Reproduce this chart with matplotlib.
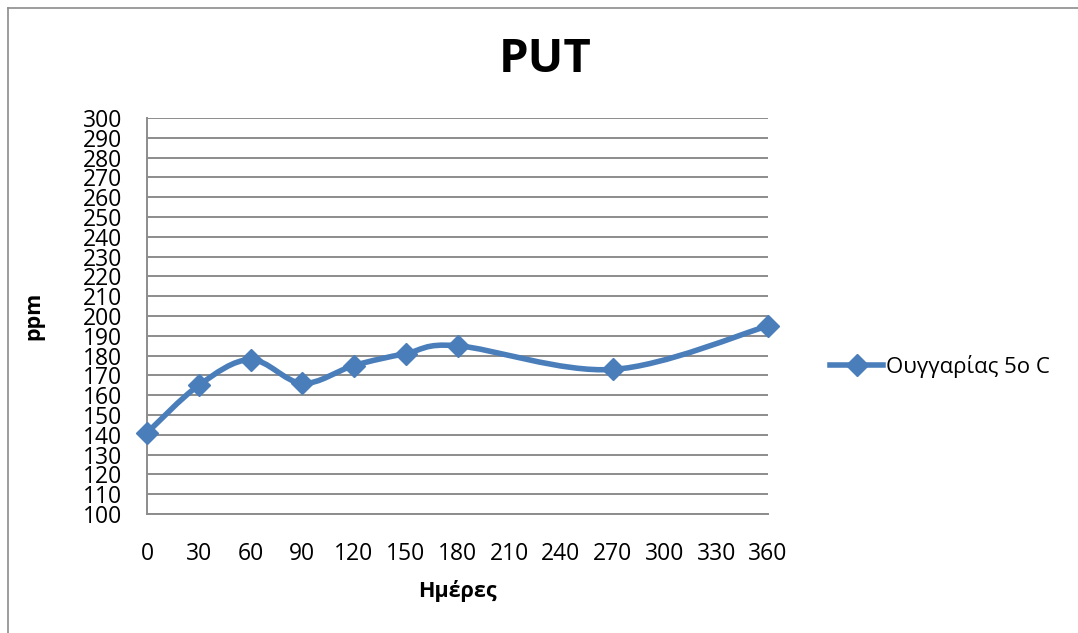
import numpy as np
import matplotlib.pyplot as plt
from matplotlib.path import Path
from matplotlib.patches import PathPatch
from matplotlib.lines import Line2D

plt.rcParams['font.family'] = ['Open Sans', 'DejaVu Sans']

days = [0, 30, 60, 90, 120, 150, 180, 270, 360]
ppm = [141, 165, 178, 166, 175, 181, 185, 173, 195]
series_name = "Ουγγαρίας 5ο C"
x_ticks = list(range(0, 361, 30))
y_ticks = list(range(100, 301, 10))

BLUE = '#4A7EBB'
GRID = '#8C8C8C'


def smooth_path(xs, ys):
    # Excel-like smoothed line: cubic Bezier through the points (Catmull-Rom tangents)
    pts = np.column_stack([xs, ys]).astype(float)
    n = len(pts)
    verts = [pts[0]]
    codes = [Path.MOVETO]
    for i in range(n - 1):
        p0 = pts[i - 1] if i > 0 else pts[i]
        p1 = pts[i]
        p2 = pts[i + 1]
        p3 = pts[i + 2] if i + 2 < n else pts[i + 1]
        c1 = p1 + (p2 - p0) / 6.0
        c2 = p2 - (p3 - p1) / 6.0
        verts += [c1, c2, p2]
        codes += [Path.CURVE4] * 3
    return Path(verts, codes)


fig = plt.figure(figsize=(10.78, 6.33), dpi=100)
ax = fig.add_axes([147 / 1078, 1 - 514 / 633, (768 - 147) / 1078, (514 - 118) / 633])

# outer chart border (extends past the picture on right and bottom)
fig.add_artist(Line2D([7.5 / 1078, 1.0], [1 - 7.5 / 633] * 2, transform=fig.transFigure,
                      color='#8C8C8C', lw=1.2))
fig.add_artist(Line2D([7.5 / 1078] * 2, [0, 1 - 7.5 / 633], transform=fig.transFigure,
                      color='#8C8C8C', lw=1.2))

ax.add_patch(PathPatch(smooth_path(days, ppm), facecolor='none', edgecolor=BLUE,
                       lw=4.0, capstyle='round', joinstyle='round', zorder=3))
ax.plot(days, ppm, linestyle='none', marker='D', markersize=11,
        color=BLUE, zorder=4, clip_on=False)

ax.set_xlim(0, 360)
ax.set_ylim(100, 300)
ax.set_xticks(x_ticks)
ax.set_yticks(y_ticks)
ax.tick_params(axis='both', length=0, labelsize=16.5)
ax.tick_params(axis='x', pad=20)
ax.tick_params(axis='y', pad=18)
ax.yaxis.grid(True, color=GRID, lw=1.4)
ax.set_axisbelow(True)
for s in ['top', 'right']:
    ax.spines[s].set_visible(False)
for s in ['left', 'bottom']:
    ax.spines[s].set_color(GRID)
    ax.spines[s].set_linewidth(1.4)

fig.text(545 / 1078, 1 - 60 / 633, 'PUT', fontsize=34, fontweight='bold',
         ha='center', va='center')
ax.set_xlabel('Ημέρες', fontsize=15.5, fontweight='bold', labelpad=10)
ax.set_ylabel('ppm', fontsize=15.5, fontweight='bold')
ax.yaxis.set_label_coords((44 - 147) / (768 - 147), (514 - 316) / (514 - 118))

handle = Line2D([], [], color=BLUE, lw=4.0, marker='D', markersize=11)
fig.legend([handle], [series_name], loc='center left',
           bbox_to_anchor=(810 / 1078, 1 - 366 / 633), frameon=False,
           fontsize=16, handlelength=2.4, handletextpad=0.1)

fig.savefig('out.png', dpi=100, facecolor='white')
